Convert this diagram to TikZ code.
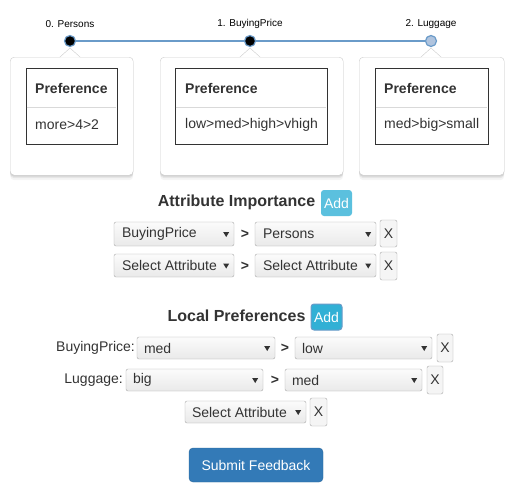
\documentclass[tikz,border=0pt]{standalone}
\usepackage{fontspec}
\setmainfont{Liberation Sans}
\usetikzlibrary{shadows}
\definecolor{linecol}{HTML}{6A9BC9}
\definecolor{txt}{HTML}{333333}
\definecolor{selborder}{HTML}{AAAAAA}
\definecolor{cardborder}{HTML}{CCCCCC}
\definecolor{infobtn}{HTML}{5BC0DE}
\definecolor{infobtnd}{HTML}{31B0D5}
\definecolor{primbtn}{HTML}{337AB7}
\definecolor{nodefill}{HTML}{B0C4DE}
\tikzset{
  card/.style={draw=cardborder, fill=white, rounded corners=4pt, anchor=north west, inner sep=0,
    drop shadow={shadow xshift=0pt, shadow yshift=-5pt, opacity=.04, fill=black},
    drop shadow={shadow xshift=0pt, shadow yshift=-3pt, opacity=.06, fill=black},
    drop shadow={shadow xshift=0pt, shadow yshift=-1.5pt, opacity=.08, fill=black}},
  prefbox/.style={draw=txt, line width=1.3pt, anchor=north west, inner sep=0},
  toplabel/.style={font=\fontsize{10}{12}\selectfont, text=black},
  head/.style={font=\fontsize{14}{16}\selectfont\bfseries, text=txt, anchor=west, inner sep=0},
  val/.style={font=\fontsize{14}{16}\selectfont, text=txt, anchor=west, inner sep=0},
  dot/.style={circle, draw=linecol, line width=1.2pt, fill=black, minimum size=11, inner sep=0},
  selbox/.style={draw=selborder, rounded corners=2pt, top color=gray!3, bottom color=gray!17, inner sep=0},
  seltext/.style={font=\fontsize{14}{16}\selectfont, text=txt, anchor=west, inner sep=0},
  gt/.style={font=\fontsize{14}{16}\selectfont\bfseries, text=txt},
  xbtn/.style={draw=selborder, rounded corners=2pt, fill=gray!8, inner sep=0, font=\fontsize{14}{16}\selectfont, text=txt},
  title/.style={font=\fontsize{16}{18}\selectfont\bfseries, text=txt},
  addbtn/.style={fill=infobtn, rounded corners=3pt, inner sep=0, minimum width=31, minimum height=26,
    font=\fontsize{14}{16}\selectfont, text=white},
  rowlabel/.style={font=\fontsize{14}{16}\selectfont, text=txt, anchor=east, inner sep=0},
}
\begin{document}
\begin{tikzpicture}[x=1pt,y=-1pt]
\useasboundingbox[fill=white] (0,0) rectangle (514,493);
% timeline
\node[dot] (c0) at (70,41) {};
\node[dot] (c1) at (250,41) {};
\node[dot, fill=nodefill] (c2) at (431,41) {};
\draw[linecol, line width=1.6pt] (c0) -- (c1);
\draw[linecol, line width=1.6pt] (c1) -- (c2);
\node[toplabel] (l0) at (70,24) {0. Persons};
\node[toplabel] (l1) at (250,24) {1. BuyingPrice};
\node[toplabel] (l2) at (431,24) {2. Luggage};
% cards
\node[card, minimum width=123, minimum height=118] (card0) at (10,57) {};
\node[card, minimum width=183, minimum height=118] (card1) at (160,57) {};
\node[card, minimum width=145, minimum height=118] (card2) at (359,57) {};
\fill[white] (60,57.6) -- (70,48) -- (80,57.6) -- cycle;
\draw[cardborder] (60,57) -- (70,48) -- (80,57);
\fill[white] (240,57.6) -- (250,48) -- (260,57.6) -- cycle;
\draw[cardborder] (240,57) -- (250,48) -- (260,57);
\fill[white] (421,57.6) -- (431,48) -- (441,57.6) -- cycle;
\draw[cardborder] (421,57) -- (431,48) -- (441,57);
\node[prefbox, minimum width=91, minimum height=76] (pref0) at (26,68) {};
\node[prefbox, minimum width=152, minimum height=76] (pref1) at (175,68) {};
\node[prefbox, minimum width=113, minimum height=76] (pref2) at (375,68) {};
\draw[gray!30] (26.7,107) -- (116.3,107);
\draw[gray!30] (175.7,107) -- (326.3,107);
\draw[gray!30] (375.7,107) -- (487.3,107);
\node[head] (h0) at (35,88) {Preference};
\node[head] (h1) at (185,88) {Preference};
\node[head] (h2) at (384,88) {Preference};
\node[val] (v0) at (35,125) {more>4>2};
\node[val] (v1) at (185,125) {low>med>high>vhigh};
\node[val] (v2) at (384,125) {med>big>small};
% attribute importance
\node[title] (ai) at (236.5,202) {Attribute Importance};
\node[addbtn] (add0) at (336.5,203) {Add};
\node[selbox, minimum width=120, minimum height=24] (s1) at (174,234) {};
\node[seltext] (s1t) at ([xshift=8]s1.west) {BuyingPrice};
\fill[txt] ([shift={(-11,-2)}]s1.east) -- ++(6,0) -- ++(-3,5) -- cycle;
\node[gt] (g1) at (245,234) {>};
\node[selbox, minimum width=121, minimum height=24] (s2) at (315.5,234) {};
\node[seltext] (s2t) at ([xshift=8]s2.west) {Persons};
\fill[txt] ([shift={(-11,-2)}]s2.east) -- ++(6,0) -- ++(-3,5) -- cycle;
\node[xbtn, minimum width=17, minimum height=27] (x1) at (388.5,233.5) {X};
\node[selbox, minimum width=120, minimum height=23] (s3) at (174,265.5) {};
\node[seltext] (s3t) at ([xshift=8]s3.west) {Select Attribute};
\fill[txt] ([shift={(-11,-2)}]s3.east) -- ++(6,0) -- ++(-3,5) -- cycle;
\node[gt] (g2) at (245,266) {>};
\node[selbox, minimum width=121, minimum height=23] (s4) at (315.5,265.5) {};
\node[seltext] (s4t) at ([xshift=8]s4.west) {Select Attribute};
\fill[txt] ([shift={(-11,-2)}]s4.east) -- ++(6,0) -- ++(-3,5) -- cycle;
\node[xbtn, minimum width=17, minimum height=28] (x2) at (388.5,266) {X};
% local preferences
\node[title] (lp) at (236.5,316) {Local Preferences};
\node[addbtn, fill=infobtnd, draw=linecol, line width=1pt] (add1) at (326.5,317) {Add};
\node[rowlabel] (r1) at (135,348) {BuyingPrice:};
\node[selbox, minimum width=138, minimum height=22] (s5) at (206,348) {};
\node[seltext] (s5t) at ([xshift=7]s5.west) {med};
\fill[txt] ([shift={(-11,-2)}]s5.east) -- ++(6,0) -- ++(-3,5) -- cycle;
\node[gt] (g3) at (285,348) {>};
\node[selbox, minimum width=137, minimum height=22] (s6) at (363.5,348) {};
\node[seltext] (s6t) at ([xshift=7]s6.west) {low};
\fill[txt] ([shift={(-11,-2)}]s6.east) -- ++(6,0) -- ++(-3,5) -- cycle;
\node[xbtn, minimum width=16, minimum height=28] (x3) at (445,348) {X};
\node[rowlabel] (r2) at (123,380) {Luggage:};
\node[selbox, minimum width=137, minimum height=22] (s7) at (194.5,380) {};
\node[seltext] (s7t) at ([xshift=7]s7.west) {big};
\fill[txt] ([shift={(-11,-2)}]s7.east) -- ++(6,0) -- ++(-3,5) -- cycle;
\node[gt] (g4) at (275,380) {>};
\node[selbox, minimum width=137, minimum height=22] (s8) at (353.5,380) {};
\node[seltext] (s8t) at ([xshift=7]s8.west) {med};
\fill[txt] ([shift={(-11,-2)}]s8.east) -- ++(6,0) -- ++(-3,5) -- cycle;
\node[xbtn, minimum width=16, minimum height=28] (x4) at (435,380) {X};
\node[selbox, minimum width=121, minimum height=22] (s9) at (245.5,412) {};
\node[seltext] (s9t) at ([xshift=7]s9.west) {Select Attribute};
\fill[txt] ([shift={(-11,-2)}]s9.east) -- ++(6,0) -- ++(-3,5) -- cycle;
\node[xbtn, minimum width=17, minimum height=28] (x5) at (318.5,412) {X};
% submit
\node[fill=primbtn, draw=primbtn!85!black, rounded corners=4pt, minimum width=134, minimum height=34,
  inner sep=0, font=\fontsize{14}{16}\selectfont, text=white] (submit) at (256,465) {Submit Feedback};
\end{tikzpicture}
\end{document}
